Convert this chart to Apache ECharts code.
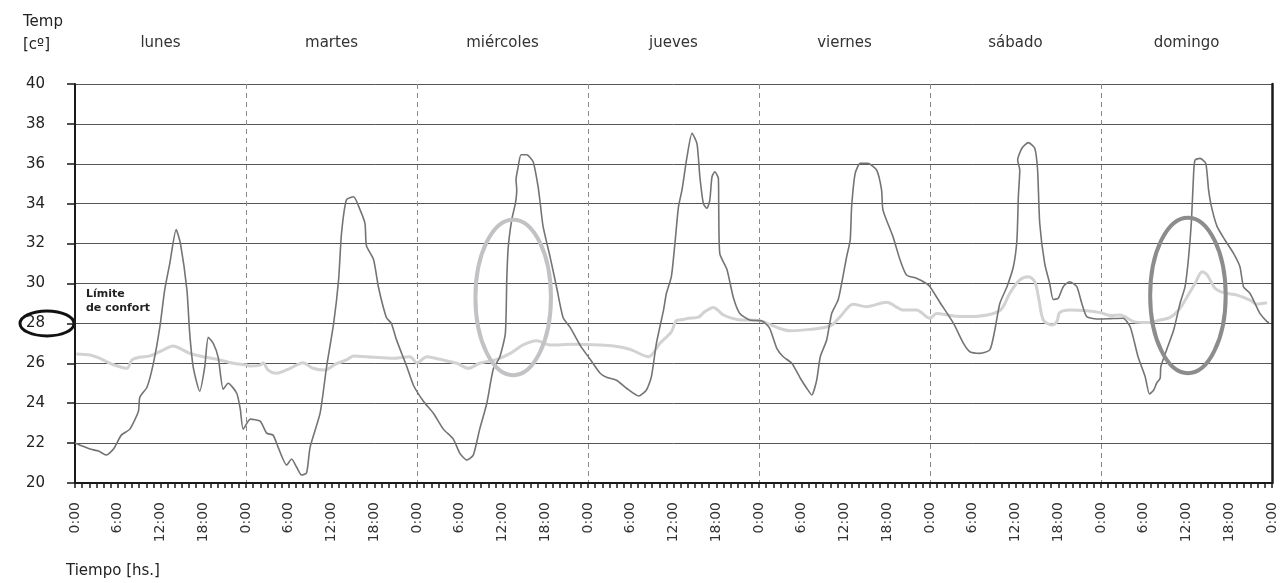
<!DOCTYPE html>
<html>
<head>
<meta charset="utf-8">
<script src="https://cdn.jsdelivr.net/npm/echarts@6/dist/echarts.min.js"></script>
<style>
  html, body { margin: 0; padding: 0; background: #ffffff; }
  #chart { width: 1287px; height: 583px; }
</style>
</head>
<body>
<div id="chart"></div>
<script>
// Week of temperature readings, hour 0 = Monday 0:00
const days = ['lunes', 'martes', 'miércoles', 'jueves', 'viernes', 'sábado', 'domingo'];
const hourLabels = ['0:00', '6:00', '12:00', '18:00'];

// Outdoor temperature [hour, °C]
const outdoor = [
  [0, 22.0], [1.4, 21.8], [2.1, 21.7], [3.3, 21.6], [4.4, 21.4], [5.4, 21.7], [6.5, 22.4], [7.7, 22.7],
  [8.9, 23.6], [9.1, 24.3], [10.1, 24.8], [11, 26.0], [11.9, 27.8], [12.6, 29.7], [13.3, 31.0], [14.2, 32.7],
  [14.8, 32.0], [15.7, 29.7], [16.1, 27.5], [16.6, 25.8], [17.5, 24.6], [18.2, 25.8], [18.7, 27.3], [19.4, 27.0],
  [20.1, 26.3], [20.8, 24.7], [21.5, 25.0], [22.7, 24.5], [23.2, 23.7], [23.6, 22.7],
  [24.6, 23.2], [26, 23.1], [26.9, 22.5], [27.8, 22.4], [28.5, 21.8], [29.7, 20.9], [30.4, 21.2], [31.1, 20.8],
  [31.8, 20.4], [32.5, 20.5], [33, 21.8], [34.4, 23.5], [35.3, 25.8], [36.3, 28.0], [37, 30.2], [37.4, 32.5],
  [38.1, 34.2], [39.1, 34.35], [40, 33.7], [40.7, 33.0], [40.9, 31.9], [41.9, 31.2], [42.6, 29.8], [43.7, 28.3],
  [44.4, 28.0], [45.1, 27.2], [46.6, 25.8], [47.5, 24.9],
  [48.9, 24.1], [50.3, 23.5], [51.7, 22.7], [53.1, 22.2], [54, 21.5], [55, 21.15], [55.9, 21.4], [56.8, 22.7],
  [57.8, 24.0], [58.7, 25.7], [59.6, 26.3], [60.4, 27.5], [60.6, 30.2], [60.8, 31.8], [61.3, 33.2], [61.8, 34.0],
  [62.0, 34.7], [61.9, 35.2], [62.2, 35.85], [62.6, 36.45], [63.4, 36.45], [64.3, 36.1], [65, 34.85], [65.3, 34.0],
  [65.7, 32.85], [66.7, 31.3], [67.6, 29.8], [68.5, 28.3], [69.5, 27.8], [70.9, 26.9],
  [72.3, 26.2], [73.7, 25.5], [74.6, 25.3], [76, 25.15], [77.4, 24.75], [79.1, 24.36], [80.2, 24.66], [80.9, 25.33],
  [81.6, 27.0], [82.6, 28.67], [83, 29.5], [83.7, 30.34], [84.2, 32.0], [84.7, 33.85], [85.2, 34.7], [85.9, 36.36],
  [86.6, 37.53], [87.3, 37.0], [87.7, 35.35], [88.2, 34.0], [88.7, 33.77], [89.1, 34.19], [89.4, 35.35], [89.8, 35.6],
  [90.3, 35.27], [90.35, 33.7], [90.5, 31.5], [91.5, 30.7], [92.4, 29.3], [93.3, 28.5], [94.7, 28.17],
  [96.1, 28.14], [96.6, 28.09], [97.5, 27.75], [98.5, 26.75], [99.4, 26.33], [100.6, 26.0], [101.8, 25.25],
  [102.7, 24.75], [103.4, 24.41], [104.1, 25.16], [104.6, 26.33], [105.5, 27.17], [106.2, 28.5], [107.1, 29.17],
  [107.6, 30.0], [108.3, 31.34], [108.8, 32.18], [109, 33.85], [109.5, 35.52], [110.2, 36.02], [111.3, 36.02],
  [112.5, 35.69], [113.2, 34.69], [113.4, 33.68], [114.8, 32.35], [115.8, 31.18], [116.7, 30.43], [118.1, 30.26],
  [119.5, 30.0],
  [120, 29.84], [121.4, 29.05], [123.3, 28.0], [124.7, 27.0], [125.6, 26.58], [127, 26.5], [128.4, 26.67],
  [129.1, 27.67], [129.8, 29.0], [130.8, 29.84], [131.7, 30.84], [132.2, 32.18], [132.4, 34.35], [132.6, 35.69],
  [132.3, 36.19], [132.9, 36.78], [133.8, 37.06], [134.7, 36.78], [135.1, 35.69], [135.4, 33.02], [136.1, 31.0],
  [136.8, 30.0], [137.3, 29.2], [138, 29.26], [138.7, 29.84], [139.6, 30.09], [140.6, 29.84], [141.3, 29.01],
  [142, 28.34], [143.4, 28.22],
  [145.3, 28.24], [147.1, 28.26], [148.1, 27.83], [149.2, 26.33], [150.2, 25.33], [150.8, 24.46], [151.4, 24.66],
  [151.8, 25.0], [152.3, 25.25], [152.4, 25.83], [153.2, 26.67], [154.2, 27.67], [155.1, 29.01], [155.8, 29.84],
  [156.3, 31.34], [156.7, 33.18], [157, 35.52], [157.2, 36.19], [157.9, 36.27], [158.7, 36.02], [159.1, 34.69],
  [159.5, 33.85], [160.3, 32.85], [161.4, 32.18], [162.6, 31.51], [163.5, 30.84], [164, 29.84], [164.9, 29.51],
  [165.6, 29.01], [166.3, 28.5], [167.3, 28.09], [167.6, 28.05]
];

// Indoor temperature [hour, °C]
const indoor = [
  [0.2, 26.47], [2.1, 26.42], [3.5, 26.25], [4.9, 26.0], [6.3, 25.83], [7.3, 25.75], [8, 26.17], [9.1, 26.3],
  [10.5, 26.37], [11.9, 26.58], [13.8, 26.87], [14.7, 26.75], [16.1, 26.5], [18, 26.33], [19.9, 26.2], [22.2, 26.0],
  [24.1, 25.91], [24.6, 25.86], [26, 25.91], [26.4, 26.03], [27.1, 25.66], [28.3, 25.5], [30.2, 25.75], [32, 26.03],
  [33.4, 25.75], [35.1, 25.66], [36.5, 25.95], [38.1, 26.17], [39.1, 26.37], [41.9, 26.3], [44.7, 26.25], [47, 26.33],
  [48, 26.03], [49.4, 26.33], [51.2, 26.2], [53.6, 26.0], [55.2, 25.75], [56.8, 26.0], [59.2, 26.2], [61.1, 26.5],
  [62.9, 26.92], [64.8, 27.13], [66.7, 26.92], [69.9, 26.95], [73.7, 26.92], [75.6, 26.87], [77.9, 26.7], [80.5, 26.33],
  [82.1, 27.0], [83.7, 27.58], [84.4, 28.14], [85.4, 28.2], [86.1, 28.26], [87.5, 28.31], [88.4, 28.59], [89.6, 28.8],
  [91, 28.42], [92.9, 28.2], [96.1, 28.14], [98.5, 27.8], [100.4, 27.63], [103.2, 27.7], [106, 27.87], [107.4, 28.34],
  [109.2, 28.96], [111.1, 28.84], [113.9, 29.06], [116.3, 28.67], [118.1, 28.67], [120, 28.26], [120.9, 28.5],
  [123.3, 28.37], [125.6, 28.34], [128.9, 28.5], [130.1, 28.75], [131.2, 29.51], [132.6, 30.18], [133.8, 30.34],
  [134.7, 30.09], [135.3, 29.17], [135.9, 28.17], [137.1, 27.92], [137.8, 28.09], [138.2, 28.54], [139.6, 28.67],
  [142, 28.64], [143.9, 28.54], [145.3, 28.4], [146.7, 28.42], [148.6, 28.09], [150.5, 28.04], [152.3, 28.17],
  [153.7, 28.3], [154.9, 28.67], [156.1, 29.34], [157.2, 30.0], [158.2, 30.59], [158.9, 30.43], [160, 29.76],
  [161.2, 29.54], [163.1, 29.42], [164.9, 29.17], [165.8, 28.97], [167.3, 29.04]
];

// Highlight rings: [centre hour, centre °C, half-width in hours, half-height in °C]
const rings = [
  [61.5, 29.3, 5.3, 3.9],
  [156.2, 29.4, 5.3, 3.9]
];
const ringColors = ['#c2c2c4', '#8c8c8c'];
const comfortLimit = 28;

const FONT = '"DejaVu Sans", "Open Sans", sans-serif';
const chart = echarts.init(document.getElementById('chart'), null, { renderer: 'canvas' });

chart.setOption({
  animation: false,
  backgroundColor: '#ffffff',
  textStyle: { fontFamily: FONT },
  grid: { left: 75, right: 15, top: 84, bottom: 100, containLabel: false },
  xAxis: [
    {
      type: 'value', min: 0, max: 168, interval: 6,
      axisLine: { show: true, lineStyle: { color: '#1a1a1a', width: 2 } },
      axisTick: { show: true, length: 5, lineStyle: { color: '#1a1a1a', width: 1.5 } },
      minorTick: { show: true, splitNumber: 6, length: 5, lineStyle: { color: '#1a1a1a', width: 1.5 } },
      splitLine: { show: false },
      axisLabel: {
        rotate: 90, margin: 19, fontSize: 14, color: '#333', fontFamily: FONT,
        formatter: v => hourLabels[Math.round(v / 6) % 4]
      }
    },
    {
      type: 'category', data: days, position: 'top', boundaryGap: true,
      axisLine: { show: false }, axisTick: { show: false },
      axisLabel: { margin: 33, fontSize: 15, color: '#333', fontFamily: FONT, interval: 0 },
      splitLine: {
        show: true, interval: 0, showMinLine: false, showMaxLine: false,
        lineStyle: { color: '#8a8a8a', type: [5, 4], width: 1 }
      }
    }
  ],
  yAxis: [
    {
      type: 'value', min: 20, max: 40, interval: 2,
      axisLine: { show: true, lineStyle: { color: '#1a1a1a', width: 2 } },
      axisTick: { show: true, length: 8, lineStyle: { color: '#1a1a1a', width: 1.5 } },
      axisLabel: { margin: 30, fontSize: 15, color: '#222', fontFamily: FONT },
      splitLine: { show: true, showMinLine: false, lineStyle: { color: '#555', width: 1 } }
    },
    {
      type: 'value', min: 20, max: 40, interval: 2, position: 'right',
      axisLine: { show: true, lineStyle: { color: '#1a1a1a', width: 2.5 } },
      axisTick: { show: false }, axisLabel: { show: false }, splitLine: { show: false }
    }
  ],
  series: [
    {
      name: 'interior', type: 'line', data: indoor, xAxisIndex: 0, yAxisIndex: 0,
      showSymbol: false, smooth: 0.3, z: 3,
      lineStyle: { color: '#d2d2d2', width: 3 }
    },
    {
      name: 'exterior', type: 'line', data: outdoor, xAxisIndex: 0, yAxisIndex: 0,
      showSymbol: false, smooth: 0.2, z: 4,
      lineStyle: { color: '#747474', width: 1.6 }
    },
    {
      name: 'rings', type: 'custom', data: rings, xAxisIndex: 0, yAxisIndex: 0,
      silent: true, z: 5, clip: false,
      renderItem: (params, api) => {
        const c = api.coord([api.value(0), api.value(1)]);
        const s = api.size([api.value(2), api.value(3)]);
        return {
          type: 'ellipse',
          shape: { cx: c[0], cy: c[1], rx: s[0], ry: s[1] },
          style: { fill: 'none', stroke: ringColors[params.dataIndex], lineWidth: 4 }
        };
      }
    }
  ]
});

// Annotations tied to the comfort limit on the temperature axis
const yLimit = chart.convertToPixel({ yAxisIndex: 0 }, comfortLimit);
const x0 = chart.convertToPixel({ xAxisIndex: 0 }, 0);

chart.setOption({
  graphic: [
    {
      type: 'text', left: 23, top: 11,
      style: { text: 'Temp\n[cº]', font: '15px ' + FONT, fill: '#222', lineHeight: 23 }
    },
    {
      type: 'text', left: 66, top: 564,
      style: { text: 'Tiempo [hs.]', font: '15px ' + FONT, fill: '#222' }
    },
    {
      type: 'text', x: x0 + 11, y: yLimit - 8,
      style: {
        text: 'Límite\nde confort', font: 'bold 11px ' + FONT, fill: '#222',
        lineHeight: 14, verticalAlign: 'bottom'
      }
    },
    {
      type: 'ellipse',
      shape: { cx: x0 - 28, cy: yLimit, rx: 27, ry: 12.5 },
      style: { fill: 'none', stroke: '#111', lineWidth: 3 }
    }
  ]
});
</script>
</body>
</html>
